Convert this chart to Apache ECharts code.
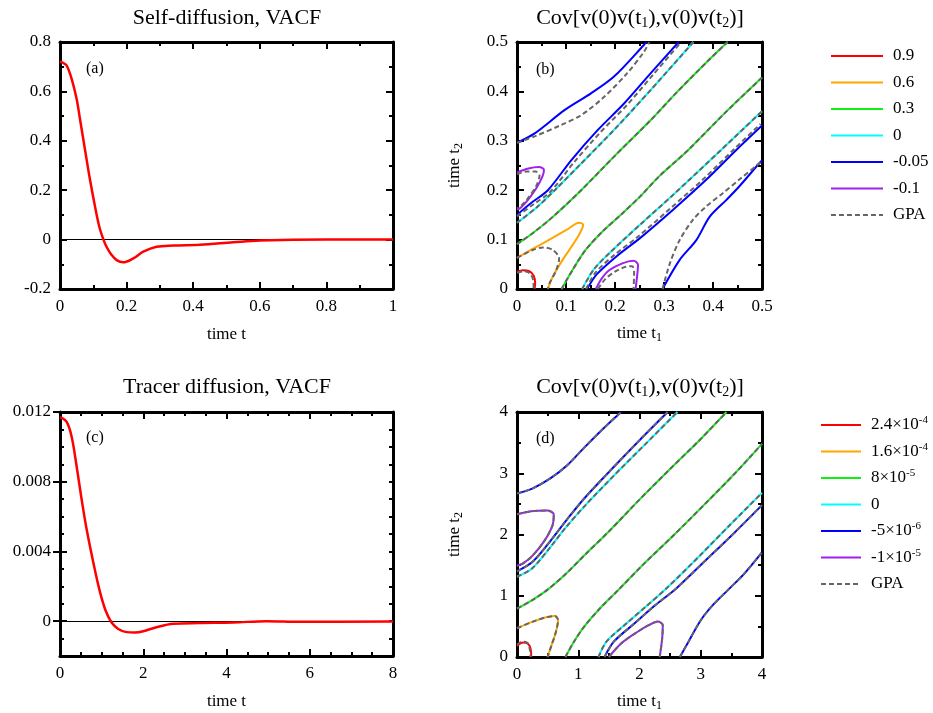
<!DOCTYPE html>
<html>
<head>
<meta charset="utf-8">
<script src="https://cdn.jsdelivr.net/npm/echarts@6/dist/echarts.min.js"></script>
<style>
  html, body { margin: 0; padding: 0; background: #fff; }
  #chart { width: 933px; height: 713px; }
</style>
</head>
<body>
<div id="chart"></div>
<script>
// ---- VACF curves ----
const selfT    = [0, 0.01, 0.02, 0.035, 0.05, 0.06, 0.075, 0.09, 0.105, 0.118, 0.13, 0.14, 0.155, 0.17, 0.19, 0.22, 0.25, 0.29, 0.34, 0.42, 0.52, 0.6, 0.8, 1.0];
const selfVacf = [0.722, 0.715, 0.705, 0.651, 0.569, 0.488, 0.365, 0.243, 0.135, 0.052, 0.002, -0.03, -0.062, -0.083, -0.092, -0.076, -0.049, -0.029, -0.024, -0.021, -0.011, -0.004, 0, 0];

const tracerT    = [0, 0.16, 0.28, 0.4, 0.52, 0.64, 0.8, 0.96, 1.1, 1.24, 1.4, 1.6, 1.8, 2.0, 2.3, 2.72, 3.36, 4.16, 4.96, 5.76, 8];
const tracerVacf = [0.0117, 0.01143, 0.01058, 0.00887, 0.00698, 0.00527, 0.00337, 0.00168, 0.00058, -0.00008, -0.00045, -0.00063, -0.00065, -0.00058, -0.00036, -0.00015, -0.00011, -0.00008, 0, -0.00004, -0.00002];

// ---- contour levels ----
const levelColors = ['#ff0000', '#ffa500', '#11ee11', '#00ffff', '#0000ff', '#a020f0'];
const levelsB = ['0.9', '0.6', '0.3', '0', '-0.05', '-0.1'];
const levelsD = ['2.4e-4', '1.6e-4', '8e-5', '0 ', '-5e-6', '-1e-5'];
const labelsD = ['2.4×10{sup|-4}', '1.6×10{sup|-4}', '8×10{sup|-5}', '0', '-5×10{sup|-6}', '-1×10{sup|-5}'];

// panel (b) contour branches, [t1, t2]
const bRed       = [[0,0.035],[0.012,0.038],[0.025,0.036],[0.034,0.027],[0.037,0.012],[0.036,0]];
const bOrange    = [[0,0.063],[0.03,0.08],[0.059,0.096],[0.1,0.119],[0.127,0.134],[0.135,0.13],[0.12,0.099],[0.093,0.059],[0.073,0.025],[0.063,0]];
const bGreenUp   = [[0,0.091],[0.032,0.113],[0.073,0.146],[0.131,0.2],[0.198,0.268],[0.273,0.342],[0.325,0.397],[0.393,0.465],[0.43,0.5]];
const bGreenLo   = [[0.091,0],[0.113,0.038],[0.14,0.079],[0.174,0.116],[0.215,0.153],[0.251,0.187],[0.291,0.229],[0.349,0.281],[0.426,0.358],[0.5,0.428]];
const bCyanUp    = [[0,0.134],[0.04,0.165],[0.077,0.2],[0.131,0.254],[0.198,0.322],[0.273,0.403],[0.36,0.5]];
const bCyanLo    = [[0.133,0],[0.157,0.04],[0.19,0.074],[0.251,0.13],[0.318,0.19],[0.416,0.281],[0.5,0.36]];
const bBlueOutUp = [[0,0.296],[0.036,0.315],[0.097,0.362],[0.151,0.396],[0.198,0.43],[0.259,0.494],[0.264,0.5]];
const bBlueInUp  = [[0,0.15],[0.03,0.175],[0.063,0.2],[0.111,0.261],[0.165,0.322],[0.219,0.376],[0.273,0.437],[0.33,0.5]];
const bBlueInLo  = [[0.143,0],[0.163,0.03],[0.204,0.067],[0.251,0.103],[0.318,0.16],[0.386,0.221],[0.447,0.281],[0.5,0.331]];
const bBlueOutLo = [[0.297,0],[0.332,0.059],[0.366,0.099],[0.393,0.146],[0.427,0.18],[0.453,0.207],[0.494,0.254],[0.5,0.26]];
const bPurpleUp  = [[0,0.236],[0.023,0.244],[0.045,0.247],[0.055,0.241],[0.052,0.228],[0.04,0.205],[0.022,0.18],[0.008,0.165],[0,0.16]];
const bPurpleLo  = [[0.161,0],[0.172,0.02],[0.188,0.038],[0.215,0.052],[0.238,0.057],[0.247,0.049],[0.245,0.025],[0.242,0]];
// GPA where it departs from the simulation
const bRedGpa       = [[0,0.033],[0.014,0.036],[0.027,0.031],[0.033,0.018],[0.034,0]];
const bOrangeGpa    = [[0,0.063],[0.032,0.079],[0.053,0.084],[0.073,0.079],[0.086,0.062],[0.08,0.038],[0.066,0.011],[0.063,0]];
const bBlueOutUpGpa = [[0,0.296],[0.036,0.309],[0.09,0.332],[0.131,0.352],[0.178,0.389],[0.225,0.437],[0.259,0.48],[0.27,0.5]];
const bBlueInUpGpa  = [[0,0.147],[0.033,0.171],[0.068,0.197],[0.116,0.256],[0.17,0.317],[0.224,0.372],[0.277,0.433],[0.335,0.5]];
const bBlueInLoGpa  = [[0.141,0],[0.16,0.033],[0.2,0.07],[0.247,0.106],[0.314,0.164],[0.382,0.224],[0.444,0.284],[0.497,0.334]];
const bBlueOutLoGpa = [[0.297,0],[0.312,0.052],[0.332,0.099],[0.359,0.14],[0.386,0.167],[0.42,0.194],[0.453,0.221],[0.494,0.254],[0.5,0.259]];
const bPurpleUpGpa  = [[0,0.232],[0.02,0.238],[0.038,0.238],[0.046,0.23],[0.04,0.21],[0.025,0.187],[0.01,0.17],[0,0.163]];
const bPurpleLoGpa  = [[0.165,0],[0.18,0.02],[0.2,0.035],[0.222,0.045],[0.235,0.046],[0.239,0.035],[0.238,0]];

// panel (d) contour branches, [t1, t2]
const dRed       = [[0,0.18],[0.1,0.235],[0.18,0.215],[0.225,0.12],[0.232,0]];
const dOrange    = [[0,0.47],[0.26,0.577],[0.475,0.648],[0.62,0.67],[0.67,0.6],[0.63,0.39],[0.556,0.17],[0.5,0]];
const dGreenUp   = [[0,0.79],[0.25,0.93],[0.5,1.1],[0.8,1.36],[1.1,1.66],[1.5,2.05],[2.0,2.57],[2.5,3.07],[3.0,3.56],[3.42,4.0]];
const dGreenLo   = [[0.79,0],[0.93,0.25],[1.1,0.5],[1.36,0.8],[1.66,1.1],[2.05,1.5],[2.57,2.0],[3.07,2.5],[3.56,3.0],[4.0,3.48]];
const dCyanUp    = [[0,1.31],[0.25,1.45],[0.55,1.8],[0.8,2.12],[1.1,2.46],[1.6,2.98],[2.1,3.48],[2.62,4.0]];
const dCyanLo    = [[1.33,0],[1.46,0.25],[1.79,0.55],[2.1,0.82],[2.45,1.13],[2.98,1.65],[3.48,2.16],[4.0,2.68]];
const dBlueOutUp = [[0,2.67],[0.25,2.75],[0.55,2.92],[0.82,3.13],[1.09,3.41],[1.41,3.73],[1.7,4.0]];
const dBlueInUp  = [[0,1.4],[0.25,1.55],[0.55,1.9],[0.82,2.25],[1.09,2.58],[1.52,3.04],[2.06,3.6],[2.46,4.0]];
const dBlueInLo  = [[1.43,0],[1.58,0.25],[1.92,0.55],[2.25,0.84],[2.6,1.12],[3.05,1.55],[3.55,2.03],[4.0,2.48]];
const dBlueOutLo = [[2.66,0],[2.8,0.25],[3.0,0.6],[3.2,0.85],[3.45,1.1],[3.7,1.35],[4.0,1.71]];
const dPurpleUp  = [[0,2.33],[0.23,2.38],[0.5,2.39],[0.6,2.33],[0.58,2.15],[0.45,1.9],[0.25,1.65],[0.1,1.53],[0,1.49]];
const dPurpleLo  = [[1.5,0],[1.7,0.22],[1.95,0.4],[2.15,0.52],[2.3,0.58],[2.38,0.52],[2.37,0.3],[2.33,0]];
const dRedGpa    = [[0,0.2],[0.08,0.25],[0.17,0.23],[0.21,0.12],[0.22,0]];

// branches grouped by level (same order as levels)
const branchesB = [[bRed], [bOrange], [bGreenUp, bGreenLo], [bCyanUp, bCyanLo],
                   [bBlueOutUp, bBlueInUp, bBlueInLo, bBlueOutLo], [bPurpleUp, bPurpleLo]];
const gpaB = [bRedGpa, bOrangeGpa, bGreenUp, bGreenLo, bCyanUp, bCyanLo,
              bBlueOutUpGpa, bBlueInUpGpa, bBlueInLoGpa, bBlueOutLoGpa, bPurpleUpGpa, bPurpleLoGpa];
const branchesD = [[dRed], [dOrange], [dGreenUp, dGreenLo], [dCyanUp, dCyanLo],
                   [dBlueOutUp, dBlueInUp, dBlueInLo, dBlueOutLo], [dPurpleUp, dPurpleLo]];
const gpaD = [dRedGpa, dOrange, dGreenUp, dGreenLo, dCyanUp, dCyanLo,
              dBlueOutUp, dBlueInUp, dBlueInLo, dBlueOutLo, dPurpleUp, dPurpleLo];

const SERIF = 'Liberation Serif';
const GPA_COLOR = '#666666';

const subRich = {
  s: { fontFamily: SERIF, fontSize: 12, lineHeight: 12, padding: [9, 0, 0, 0], verticalAlign: 'bottom', color: '#000' }
};

function makeAxis(grid, pos, min, max, interval, split, withLabels, extra) {
  const ax = {
    type: 'value', gridIndex: grid, position: pos, min: min, max: max,
    axisLine: { show: true, onZero: false, lineStyle: { color: '#000', width: 3 } },
    axisTick: { show: true, inside: true, length: 7, lineStyle: { color: '#000', width: 2 } },
    minorTick: { show: split > 0, splitNumber: split || 2, length: 4, lineStyle: { color: '#000', width: 2 } },
    splitLine: { show: false },
    minorSplitLine: { show: false },
    axisLabel: { show: withLabels, color: '#000', fontFamily: SERIF, fontSize: 17, margin: 9 }
  };
  if (interval) ax.interval = interval;
  return Object.assign(ax, extra || {});
}

const xName = (txt, gap) => ({
  name: txt, nameLocation: 'middle', nameGap: gap,
  nameTextStyle: { color: '#000', fontFamily: SERIF, fontSize: 17, lineHeight: 20, rich: subRich }
});
const yName = (txt, gap) => ({
  name: txt, nameLocation: 'middle', nameGap: gap, nameRotate: 90,
  nameTextStyle: { color: '#000', fontFamily: SERIF, fontSize: 17, lineHeight: 20, rich: subRich }
});

const xAxes = [
  makeAxis(0, 'bottom', 0, 1, 0.2, 2, true, xName('time t', 36)),
  makeAxis(0, 'top', 0, 1, 0.2, 2, false),
  makeAxis(1, 'bottom', 0, 0.5, 0.1, 2, true, xName('time t{s|1}', 35)),
  makeAxis(1, 'top', 0, 0.5, 0.1, 2, false),
  makeAxis(2, 'bottom', 0, 8, 2, 4, true, xName('time t', 36)),
  makeAxis(2, 'top', 0, 8, 2, 4, false),
  makeAxis(3, 'bottom', 0, 4, 1, 2, true, xName('time t{s|1}', 35)),
  makeAxis(3, 'top', 0, 4, 1, 2, false)
];

const cMajor = [0, 0.004, 0.008, 0.012];
const shortTicks = { axisTick: { show: true, inside: true, length: 4, lineStyle: { color: '#000', width: 2 } } };
const yAxes = [
  makeAxis(0, 'left', -0.2, 0.8, 0.2, 2, true),
  makeAxis(0, 'right', -0.2, 0.8, 0.2, 2, false),
  makeAxis(1, 'left', 0, 0.5, 0.1, 2, true, yName('time t{s|2}', 52)),
  makeAxis(1, 'right', 0, 0.5, 0.1, 2, false),
  // panel (c): short ticks every 0.001, long ticks + labels at the multiples of 0.004
  makeAxis(2, 'left', -0.002, 0.012, 0.001, 0, false, shortTicks),
  makeAxis(2, 'left', -0.002, 0.012, null, 0, true, {
    axisLine: { show: false },
    axisTick: { show: true, inside: true, length: 7, customValues: cMajor, lineStyle: { color: '#000', width: 2 } },
    axisLabel: { show: true, customValues: cMajor, color: '#000', fontFamily: SERIF, fontSize: 17, margin: 9,
                 formatter: v => String(+(+v).toFixed(4)) }
  }),
  makeAxis(2, 'right', -0.002, 0.012, 0.001, 0, false, shortTicks),
  makeAxis(2, 'right', -0.002, 0.012, null, 0, false, {
    axisLine: { show: false },
    axisTick: { show: true, inside: true, length: 7, customValues: cMajor, lineStyle: { color: '#000', width: 2 } }
  }),
  makeAxis(3, 'left', 0, 4, 1, 2, true, yName('time t{s|2}', 52)),
  makeAxis(3, 'right', 0, 4, 1, 2, false)
];

const series = [];

// zero reference lines, kept under the VACF curves
[[0, 0], [4, 4]].forEach(([xi, yi]) => {
  series.push({
    type: 'line', xAxisIndex: xi, yAxisIndex: yi, data: [], z: 1, silent: true,
    markLine: { silent: true, symbol: 'none', animation: false, z: 1, label: { show: false },
                lineStyle: { color: '#000', width: 1, type: 'solid' }, data: [{ yAxis: 0 }] }
  });
});

series.push({
  type: 'line', name: 'self', xAxisIndex: 0, yAxisIndex: 0, z: 6,
  data: selfT.map((t, i) => [t, selfVacf[i]]),
  symbol: 'none', smooth: 0.35, lineStyle: { color: '#ff0000', width: 2.5 }
});
series.push({
  type: 'line', name: 'tracer', xAxisIndex: 4, yAxisIndex: 4, z: 6,
  data: tracerT.map((t, i) => [t, tracerVacf[i]]),
  symbol: 'none', smooth: 0.35, lineStyle: { color: '#ff0000', width: 2.5 }
});

function addContours(names, branches, gpa, gpaName, xi, yi) {
  names.forEach((nm, i) => {
    branches[i].forEach(br => {
      series.push({
        type: 'line', name: nm, xAxisIndex: xi, yAxisIndex: yi, data: br, z: 2,
        symbol: 'none', smooth: 0.3,
        lineStyle: { color: levelColors[i], width: 2 }, itemStyle: { color: levelColors[i] }
      });
    });
  });
  gpa.forEach(br => {
    series.push({
      type: 'line', name: gpaName, xAxisIndex: xi, yAxisIndex: yi, data: br, z: 4,
      symbol: 'none', smooth: 0.3,
      lineStyle: { color: GPA_COLOR, width: 2, type: [5, 3] }, itemStyle: { color: GPA_COLOR }
    });
  });
}
addContours(levelsB, branchesB, gpaB, 'GPA', 2, 2);
addContours(levelsD, branchesD, gpaD, 'GPA ', 6, 8);

const legendText = { color: '#000', fontFamily: SERIF, fontSize: 17, lineHeight: 20, padding: [0, 0, 0, 5],
  rich: { sup: { fontFamily: SERIF, fontSize: 11, lineHeight: 11, verticalAlign: 'top', padding: [0, 0, 9, 0], color: '#000' } } };
const legendBase = { orient: 'vertical', padding: 0, itemHeight: 14, itemGap: 6.5, selectedMode: false,
  itemStyle: { color: 'rgba(0,0,0,0)', borderWidth: 0, opacity: 0 }, textStyle: legendText };

const titleStyle = (txt, x, y) => ({
  type: 'text', x: x, y: y, silent: true,
  style: { text: txt, fill: '#000', fontFamily: SERIF, fontSize: 22, lineHeight: 24,
           align: 'center', verticalAlign: 'middle', textAlign: 'center', textVerticalAlign: 'middle',
           rich: { s: { fontFamily: SERIF, fontSize: 14, lineHeight: 14, padding: [10, 0, 0, 0], verticalAlign: 'bottom', fill: '#000' } } }
});
const tag = (txt, x, y) => ({
  type: 'text', x: x, y: y, silent: true,
  style: { text: txt, fill: '#000', fontFamily: SERIF, fontSize: 16, verticalAlign: 'middle', textVerticalAlign: 'middle' }
});

const chart = echarts.init(document.getElementById('chart'), null, { renderer: 'canvas' });
chart.setOption({
  animation: false,
  backgroundColor: '#fff',
  grid: [
    { left: 60, top: 42, width: 333, height: 247 },
    { left: 517, top: 42, width: 245, height: 247 },
    { left: 60, top: 412, width: 333, height: 245 },
    { left: 517, top: 412, width: 245, height: 245 }
  ],
  xAxis: xAxes,
  yAxis: yAxes,
  legend: [
    Object.assign({}, legendBase, { left: 830, top: 46, itemWidth: 52, data: levelsB.concat(['GPA']) }),
    Object.assign({}, legendBase, { left: 820, top: 415, itemWidth: 40, data: levelsD.concat(['GPA ']),
      formatter: n => (n === 'GPA ' ? 'GPA' : labelsD[levelsD.indexOf(n)]) })
  ],
  graphic: [
    titleStyle('Self-diffusion, VACF', 227, 18),
    titleStyle('Cov[v(0)v(t{s|1}),v(0)v(t{s|2})]', 640, 18),
    titleStyle('Tracer diffusion, VACF', 227, 387),
    titleStyle('Cov[v(0)v(t{s|1}),v(0)v(t{s|2})]', 640, 387),
    tag('(a)', 86, 69), tag('(b)', 536, 70), tag('(c)', 86, 438), tag('(d)', 536, 439)
  ],
  series: series
});
</script>
</body>
</html>
